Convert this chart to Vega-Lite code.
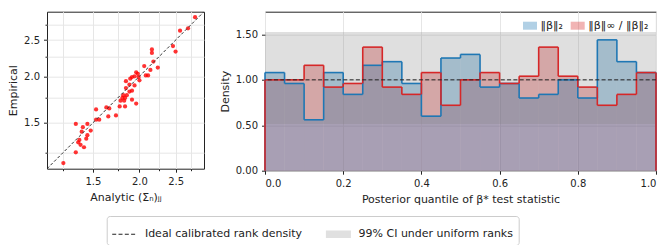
{
  "$schema": "https://vega.github.io/schema/vega-lite/v6.json",
  "padding": {"left": 7, "top": 10.7, "right": 5, "bottom": 5},
  "config": {
    "font": "DejaVu Sans",
    "view": {"stroke": "#222", "strokeWidth": 1},
    "axis": {"domain": false, "labelFont": "DejaVu Sans", "titleFont": "DejaVu Sans", "labelFontSize": 10, "titleFontSize": 11, "titleFontWeight": "normal", "labelColor": "#222", "titleColor": "#222", "tickColor": "#222", "tickSize": 3.5, "labelPadding": 4, "gridColor": "#e6e6e6", "titlePadding": 5},
    "legend": {"labelFont": "DejaVu Sans", "labelFontSize": 11, "labelColor": "#222"}
  },
  "datasets": {
    "scatter": [
      {"analytic": 2.82, "empirical": 2.88}, {"analytic": 2.57, "empirical": 2.65}, {"analytic": 2.70, "empirical": 2.69},
      {"analytic": 2.46, "empirical": 2.41}, {"analytic": 2.50, "empirical": 2.33}, {"analytic": 2.16, "empirical": 2.36},
      {"analytic": 2.16, "empirical": 2.31}, {"analytic": 2.18, "empirical": 2.19}, {"analytic": 2.24, "empirical": 2.11},
      {"analytic": 2.06, "empirical": 2.13}, {"analytic": 2.14, "empirical": 2.08}, {"analytic": 2.11, "empirical": 2.01},
      {"analytic": 2.08, "empirical": 2.01}, {"analytic": 1.96, "empirical": 2.05}, {"analytic": 2.00, "empirical": 1.95},
      {"analytic": 1.98, "empirical": 2.03}, {"analytic": 1.94, "empirical": 2.00}, {"analytic": 1.91, "empirical": 1.99},
      {"analytic": 1.89, "empirical": 1.97}, {"analytic": 1.99, "empirical": 1.99}, {"analytic": 1.84, "empirical": 1.94},
      {"analytic": 1.88, "empirical": 1.90}, {"analytic": 1.84, "empirical": 1.86}, {"analytic": 1.94, "empirical": 1.89},
      {"analytic": 1.91, "empirical": 1.83}, {"analytic": 1.88, "empirical": 1.82}, {"analytic": 1.85, "empirical": 1.78},
      {"analytic": 1.81, "empirical": 1.78}, {"analytic": 1.80, "empirical": 1.75}, {"analytic": 1.83, "empirical": 1.75},
      {"analytic": 1.78, "empirical": 1.72}, {"analytic": 1.82, "empirical": 1.72}, {"analytic": 1.91, "empirical": 1.73},
      {"analytic": 1.96, "empirical": 1.69}, {"analytic": 1.77, "empirical": 1.66}, {"analytic": 1.83, "empirical": 1.66},
      {"analytic": 1.66, "empirical": 1.64}, {"analytic": 1.63, "empirical": 1.65}, {"analytic": 1.53, "empirical": 1.63},
      {"analytic": 1.56, "empirical": 1.53}, {"analytic": 1.53, "empirical": 1.53}, {"analytic": 1.65, "empirical": 1.56},
      {"analytic": 1.73, "empirical": 1.57}, {"analytic": 1.45, "empirical": 1.49}, {"analytic": 1.35, "empirical": 1.49},
      {"analytic": 1.41, "empirical": 1.46}, {"analytic": 1.40, "empirical": 1.42}, {"analytic": 1.48, "empirical": 1.43},
      {"analytic": 1.45, "empirical": 1.39}, {"analytic": 1.44, "empirical": 1.36}, {"analytic": 1.38, "empirical": 1.35},
      {"analytic": 1.37, "empirical": 1.33}, {"analytic": 1.39, "empirical": 1.31}, {"analytic": 1.42, "empirical": 1.29},
      {"analytic": 1.35, "empirical": 1.25}, {"analytic": 1.25, "empirical": 1.17}
    ],
    "diag": [{"analytic": 1.13, "empirical": 1.13}, {"analytic": 2.98, "empirical": 2.98}],
    "hist": [
      {"series": "‖β‖₂", "start": 0.00, "end": 0.05, "d": 1.08},
      {"series": "‖β‖₂", "start": 0.05, "end": 0.10, "d": 0.96},
      {"series": "‖β‖₂", "start": 0.10, "end": 0.15, "d": 0.56},
      {"series": "‖β‖₂", "start": 0.15, "end": 0.20, "d": 1.08},
      {"series": "‖β‖₂", "start": 0.20, "end": 0.25, "d": 0.84},
      {"series": "‖β‖₂", "start": 0.25, "end": 0.30, "d": 1.16},
      {"series": "‖β‖₂", "start": 0.30, "end": 0.35, "d": 1.20},
      {"series": "‖β‖₂", "start": 0.35, "end": 0.40, "d": 0.96},
      {"series": "‖β‖₂", "start": 0.40, "end": 0.45, "d": 0.60},
      {"series": "‖β‖₂", "start": 0.45, "end": 0.50, "d": 1.24},
      {"series": "‖β‖₂", "start": 0.50, "end": 0.55, "d": 1.28},
      {"series": "‖β‖₂", "start": 0.55, "end": 0.60, "d": 0.92},
      {"series": "‖β‖₂", "start": 0.60, "end": 0.65, "d": 0.96},
      {"series": "‖β‖₂", "start": 0.65, "end": 0.70, "d": 0.80},
      {"series": "‖β‖₂", "start": 0.70, "end": 0.75, "d": 0.84},
      {"series": "‖β‖₂", "start": 0.75, "end": 0.80, "d": 1.00},
      {"series": "‖β‖₂", "start": 0.80, "end": 0.85, "d": 0.80},
      {"series": "‖β‖₂", "start": 0.85, "end": 0.90, "d": 1.44},
      {"series": "‖β‖₂", "start": 0.90, "end": 0.95, "d": 1.20},
      {"series": "‖β‖₂", "start": 0.95, "end": 1.00, "d": 1.08},
      {"series": "‖β‖∞ / ‖β‖₂", "start": 0.00, "end": 0.05, "d": 1.00},
      {"series": "‖β‖∞ / ‖β‖₂", "start": 0.05, "end": 0.10, "d": 1.00},
      {"series": "‖β‖∞ / ‖β‖₂", "start": 0.10, "end": 0.15, "d": 1.16},
      {"series": "‖β‖∞ / ‖β‖₂", "start": 0.15, "end": 0.20, "d": 0.92},
      {"series": "‖β‖∞ / ‖β‖₂", "start": 0.20, "end": 0.25, "d": 0.96},
      {"series": "‖β‖∞ / ‖β‖₂", "start": 0.25, "end": 0.30, "d": 1.36},
      {"series": "‖β‖∞ / ‖β‖₂", "start": 0.30, "end": 0.35, "d": 0.92},
      {"series": "‖β‖∞ / ‖β‖₂", "start": 0.35, "end": 0.40, "d": 0.84},
      {"series": "‖β‖∞ / ‖β‖₂", "start": 0.40, "end": 0.45, "d": 1.08},
      {"series": "‖β‖∞ / ‖β‖₂", "start": 0.45, "end": 0.50, "d": 0.72},
      {"series": "‖β‖∞ / ‖β‖₂", "start": 0.50, "end": 0.55, "d": 1.00},
      {"series": "‖β‖∞ / ‖β‖₂", "start": 0.55, "end": 0.60, "d": 1.08},
      {"series": "‖β‖∞ / ‖β‖₂", "start": 0.60, "end": 0.65, "d": 0.96},
      {"series": "‖β‖∞ / ‖β‖₂", "start": 0.65, "end": 0.70, "d": 1.04},
      {"series": "‖β‖∞ / ‖β‖₂", "start": 0.70, "end": 0.75, "d": 1.36},
      {"series": "‖β‖∞ / ‖β‖₂", "start": 0.75, "end": 0.80, "d": 1.04},
      {"series": "‖β‖∞ / ‖β‖₂", "start": 0.80, "end": 0.85, "d": 0.92},
      {"series": "‖β‖∞ / ‖β‖₂", "start": 0.85, "end": 0.90, "d": 0.72},
      {"series": "‖β‖∞ / ‖β‖₂", "start": 0.90, "end": 0.95, "d": 0.84},
      {"series": "‖β‖∞ / ‖β‖₂", "start": 0.95, "end": 1.00, "d": 1.08}
    ],
    "band": [{"kind": "99% CI under uniform ranks", "x0": 0, "x1": 1, "lo": 0.513, "hi": 1.527}],
    "ideal": [{"kind": "Ideal calibrated rank density", "y": 1}]
  },
  "resolve": {"scale": {"color": "independent", "strokeDash": "independent"}, "legend": {"color": "independent", "strokeDash": "independent"}},
  "hconcat": [
    {
      "width": 157,
      "height": 157,
      "layer": [
        {
          "data": {"name": "scatter"},
          "mark": {"type": "circle", "color": "#ff0000", "opacity": 0.8, "size": 18},
          "encoding": {
            "x": {"field": "analytic", "type": "quantitative",
              "scale": {"type": "log", "domain": [1.13, 2.98], "nice": false, "zero": false},
              "axis": {"title": "Analytic (Σₙ)ⱼⱼ", "grid": true, "values": [1.25, 1.5, 1.75, 2, 2.25, 2.5, 2.75],
                "labelExpr": "(datum.value == 1.5 || datum.value == 2 || datum.value == 2.5) ? format(datum.value, '.1f') : ''",
                "tickSize": {"condition": {"test": "datum.value == 1.5 || datum.value == 2 || datum.value == 2.5", "value": 3.5}, "value": 2}}},
            "y": {"field": "empirical", "type": "quantitative",
              "scale": {"type": "log", "domain": [1.13, 2.98], "nice": false, "zero": false},
              "axis": {"title": "Empirical", "grid": true, "values": [1.25, 1.5, 1.75, 2, 2.25, 2.5, 2.75],
                "labelExpr": "(datum.value == 1.5 || datum.value == 2 || datum.value == 2.5) ? format(datum.value, '.1f') : ''",
                "tickSize": {"condition": {"test": "datum.value == 1.5 || datum.value == 2 || datum.value == 2.5", "value": 3.5}, "value": 2}}}
          }
        },
        {
          "data": {"name": "diag"},
          "mark": {"type": "line", "color": "#333", "strokeWidth": 1, "strokeDash": [3, 2], "clip": true},
          "encoding": {
            "x": {"field": "analytic", "type": "quantitative"},
            "y": {"field": "empirical", "type": "quantitative"}
          }
        }
      ]
    },
    {
      "width": 391,
      "height": 159,
      "layer": [
        {
          "data": {"name": "hist"},
          "transform": [{"filter": "datum.series == '‖β‖∞ / ‖β‖₂'"}],
          "mark": {"type": "rect", "opacity": 0.35},
          "encoding": {
            "x": {"field": "start", "type": "quantitative",
              "scale": {"domain": [0, 1], "nice": false, "zero": false, "padding": 0},
              "axis": {"title": "Posterior quantile of β* test statistic", "values": [0, 0.2, 0.4, 0.6, 0.8, 1], "format": ".1f", "grid": true}},
            "x2": {"field": "end"},
            "y": {"field": "d", "type": "quantitative",
              "scale": {"domain": [0, 1.75], "nice": false, "padding": 0},
              "axis": {"title": "Density", "values": [0, 0.25, 0.5, 0.75, 1, 1.25, 1.5, 1.7499], "format": ".2f", "grid": true, "labelOverlap": false}},
            "y2": {"datum": 0},
            "color": {"field": "series", "type": "nominal",
              "scale": {"domain": ["‖β‖₂", "‖β‖∞ / ‖β‖₂"], "range": ["#1f77b4", "#d62728"]},
              "legend": {"title": null, "orient": "top-right", "offset": 7, "direction": "horizontal",
                "symbolType": "M-1,-0.57H1V0.57H-1Z", "symbolSize": 196, "symbolOpacity": 0.4, "symbolStrokeWidth": 0,
                "labelOffset": 3.5, "columnPadding": 7.7, "padding": 0}}
          }
        },
        {
          "data": {"name": "hist"},
          "transform": [{"filter": "datum.series == '‖β‖₂'"}],
          "mark": {"type": "rect", "opacity": 0.35},
          "encoding": {
            "x": {"field": "start", "type": "quantitative"},
            "x2": {"field": "end"},
            "y": {"field": "d", "type": "quantitative"},
            "y2": {"datum": 0},
            "color": {"field": "series", "type": "nominal"}
          }
        },
        {
          "data": {"name": "band"},
          "mark": {"type": "rect", "color": "#808080", "opacity": 0.25},
          "encoding": {
            "x": {"field": "x0", "type": "quantitative"},
            "x2": {"field": "x1"},
            "y": {"field": "lo", "type": "quantitative"},
            "y2": {"field": "hi"}
          }
        },
        {
          "data": {"name": "hist"},
          "mark": {"type": "rule", "strokeWidth": 1.6},
          "encoding": {
            "x": {"field": "start", "type": "quantitative"},
            "x2": {"field": "end"},
            "y": {"field": "d", "type": "quantitative"},
            "color": {"field": "series", "type": "nominal"}
          }
        },
        {
          "data": {"name": "hist"},
          "transform": [{"window": [{"op": "first_value", "field": "d", "as": "prev"}], "frame": [-1, 0], "groupby": ["series"], "sort": [{"field": "start"}]}],
          "mark": {"type": "rule", "strokeWidth": 1.6},
          "encoding": {
            "x": {"field": "start", "type": "quantitative"},
            "y": {"field": "prev", "type": "quantitative"},
            "y2": {"field": "d"},
            "color": {"field": "series", "type": "nominal"}
          }
        },
        {
          "data": {"name": "hist"},
          "transform": [{"filter": "datum.start == 0"}],
          "mark": {"type": "rule", "strokeWidth": 1.6},
          "encoding": {
            "x": {"field": "start", "type": "quantitative"},
            "y": {"field": "d", "type": "quantitative"},
            "y2": {"datum": 0},
            "color": {"field": "series", "type": "nominal"}
          }
        },
        {
          "data": {"name": "hist"},
          "transform": [{"filter": "datum.end == 1"}],
          "mark": {"type": "rule", "strokeWidth": 1.6},
          "encoding": {
            "x": {"field": "end", "type": "quantitative"},
            "y": {"field": "d", "type": "quantitative"},
            "y2": {"datum": 0},
            "color": {"field": "series", "type": "nominal"}
          }
        },
        {
          "data": {"name": "ideal"},
          "mark": {"type": "rule", "color": "#222", "strokeWidth": 1},
          "encoding": {
            "y": {"field": "y", "type": "quantitative"},
            "strokeDash": {"field": "kind", "type": "nominal",
              "scale": {"domain": ["Ideal calibrated rank density", "99% CI under uniform ranks"], "range": [[4, 2.3], [1, 0]]},
              "legend": {"title": null, "orient": "none", "legendX": -158.3, "legendY": 204.3, "direction": "horizontal", "columns": 2,
                "padding": 5.5, "strokeColor": "#cccccc", "cornerRadius": 3, "fillColor": "white",
                "labelOffset": 7.7, "columnPadding": 22.7, "symbolSize": 625,
                "symbolType": {"expr": "(datum.value === 'Ideal calibrated rank density' ? 'M-1,0H1' : 'M-1,-0.3H1V0.3H-1Z')"},
                "symbolFillColor": {"expr": "(datum.value === 'Ideal calibrated rank density' ? 'transparent' : '#e0e0e0')"},
                "symbolStrokeWidth": {"expr": "(datum.value === 'Ideal calibrated rank density' ? 1.2 : 0)"}}}
          }
        }
      ]
    }
  ],
  "spacing": 61,
  "bounds": "flush"
}
